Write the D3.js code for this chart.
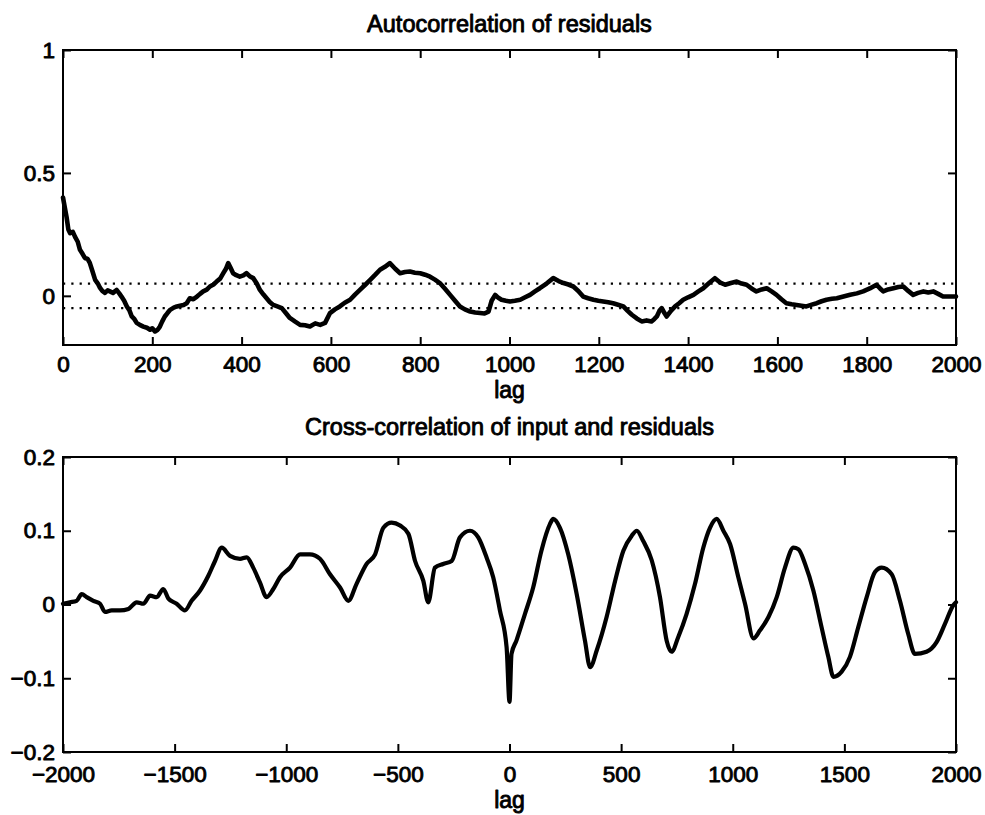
<!DOCTYPE html>
<html>
<head>
<meta charset="utf-8">
<script src="https://cdn.jsdelivr.net/npm/d3@7"></script>
<style>
  html, body { margin: 0; padding: 0; background: #fff; }
  svg { display: block; }
  text { font-family: "Liberation Sans", Arial, Helvetica, sans-serif; fill: #000; stroke: #000; stroke-width: 0.9px; stroke-linejoin: round; }
</style>
</head>
<body>
<svg id="fig" width="985" height="815"></svg>
<script>
// Autocorrelation of residuals (lag 0..2000)
const acfLag = [0, 4, 8, 12, 16, 22, 27, 33, 38, 44, 49, 55, 60, 66, 72, 78, 83, 88, 94, 100, 105, 112, 120, 126, 131, 137, 143, 149, 154, 160, 165, 172, 180, 188, 195, 200, 206, 212, 217, 222, 228, 234, 240, 248, 255, 262, 270, 277, 284, 292, 300, 307, 314, 322, 329, 337, 344, 352, 359, 365, 370, 375, 381, 388, 396, 404, 411, 418, 426, 434, 441, 449, 456, 463, 471, 480, 490, 499, 508, 520, 531, 542, 553, 565, 576, 587, 598, 609, 620, 631, 643, 654, 665, 677, 688, 699, 710, 721, 732, 744, 755, 766, 777, 788, 800, 811, 822, 833, 844, 856, 867, 878, 889, 900, 912, 923, 934, 944, 953, 960, 968, 975, 982, 992, 1001, 1012, 1024, 1035, 1046, 1057, 1068, 1083, 1098, 1110, 1121, 1132, 1143, 1154, 1165, 1176, 1188, 1199, 1210, 1221, 1232, 1243, 1255, 1264, 1274, 1285, 1296, 1307, 1318, 1324, 1330, 1336, 1341, 1347, 1352, 1362, 1371, 1380, 1389, 1400, 1412, 1423, 1434, 1447, 1460, 1471, 1483, 1496, 1509, 1520, 1531, 1542, 1553, 1565, 1576, 1587, 1598, 1609, 1620, 1632, 1643, 1654, 1665, 1677, 1688, 1699, 1710, 1722, 1733, 1748, 1763, 1778, 1792, 1807, 1822, 1830, 1837, 1848, 1860, 1871, 1882, 1893, 1904, 1915, 1927, 1938, 1949, 1960, 1971, 1985, 2000];
const acfVal = [0.40, 0.36, 0.32, 0.27, 0.255, 0.26, 0.24, 0.22, 0.187, 0.17, 0.154, 0.15, 0.134, 0.10, 0.065, 0.05, 0.032, 0.02, 0.012, 0.022, 0.018, 0.012, 0.024, 0.010, -0.003, -0.020, -0.043, -0.060, -0.084, -0.095, -0.11, -0.118, -0.125, -0.130, -0.138, -0.132, -0.145, -0.138, -0.125, -0.105, -0.084, -0.070, -0.057, -0.048, -0.043, -0.040, -0.037, -0.030, -0.01, -0.014, -0.003, 0.008, 0.018, 0.025, 0.038, 0.046, 0.058, 0.070, 0.092, 0.110, 0.133, 0.115, 0.092, 0.084, 0.078, 0.083, 0.092, 0.080, 0.072, 0.050, 0.024, 0.005, -0.01, -0.025, -0.037, -0.043, -0.05, -0.070, -0.09, -0.105, -0.118, -0.120, -0.125, -0.112, -0.118, -0.110, -0.07, -0.055, -0.043, -0.028, -0.016, 0.005, 0.024, 0.045, 0.065, 0.085, 0.106, 0.118, 0.133, 0.110, 0.092, 0.097, 0.099, 0.094, 0.092, 0.086, 0.078, 0.066, 0.052, 0.028, 0.004, -0.020, -0.043, -0.055, -0.064, -0.068, -0.07, -0.072, -0.064, -0.020, 0.004, -0.008, -0.016, -0.020, -0.023, -0.020, -0.016, -0.006, 0.004, 0.018, 0.031, 0.050, 0.072, 0.060, 0.052, 0.046, 0.038, 0.020, -0.003, -0.010, -0.016, -0.020, -0.023, -0.026, -0.03, -0.036, -0.043, -0.060, -0.077, -0.092, -0.104, -0.100, -0.104, -0.095, -0.084, -0.060, -0.05, -0.070, -0.084, -0.060, -0.043, -0.030, -0.016, -0.006, 0.004, 0.018, 0.031, 0.052, 0.072, 0.055, 0.045, 0.052, 0.058, 0.050, 0.045, 0.030, 0.018, 0.026, 0.031, 0.018, 0.004, -0.014, -0.03, -0.034, -0.037, -0.040, -0.043, -0.036, -0.03, -0.022, -0.016, -0.012, -0.01, -0.003, 0.004, 0.010, 0.018, 0.030, 0.045, 0.030, 0.018, 0.026, 0.031, 0.036, 0.038, 0.020, 0.004, 0.012, 0.018, 0.014, 0.018, 0.008, -0.003, -0.003, -0.003];
const acfBounds = [0.05, -0.05];
const acfXTicks = [0, 200, 400, 600, 800, 1000, 1200, 1400, 1600, 1800, 2000];
const acfYTicks = [0, 0.5, 1];

// Cross-correlation of input and residuals (lag -2000..2000)
const ccfLag = [-2000, -1969, -1939, -1916, -1894, -1864, -1834, -1812, -1782, -1745, -1707, -1670, -1640, -1610, -1580, -1551, -1528, -1491, -1454, -1424, -1386, -1349, -1319, -1289, -1252, -1207, -1177, -1148, -1118, -1088, -1058, -1028, -983, -938, -894, -849, -804, -759, -722, -685, -640, -602, -565, -528, -490, -453, -423, -386, -364, -334, -297, -259, -222, -177, -140, -103, -73, -43, -13, 0, 9, 31, 69, 106, 143, 181, 196, 226, 263, 301, 338, 361, 391, 435, 473, 510, 547, 570, 599, 637, 674, 704, 726, 756, 793, 831, 868, 898, 928, 958, 988, 1025, 1055, 1093, 1122, 1160, 1197, 1234, 1272, 1294, 1324, 1361, 1398, 1428, 1451, 1488, 1525, 1562, 1600, 1637, 1667, 1712, 1749, 1786, 1816, 1868, 1913, 1951, 1988, 2000];
const ccfVal = [0.001, 0.003, 0.005, 0.014, 0.01, 0.005, 0.001, -0.01, -0.008, -0.008, -0.006, 0.003, 0.001, 0.012, 0.01, 0.021, 0.008, 0.001, -0.008, 0.005, 0.019, 0.039, 0.059, 0.077, 0.066, 0.062, 0.064, 0.05, 0.03, 0.01, 0.021, 0.037, 0.05, 0.068, 0.068, 0.062, 0.041, 0.023, 0.005, 0.028, 0.055, 0.068, 0.104, 0.111, 0.107, 0.096, 0.059, 0.032, 0.003, 0.05, 0.055, 0.059, 0.091, 0.1, 0.091, 0.064, 0.037, -0.008, -0.058, -0.132, -0.067, -0.049, -0.013, 0.023, 0.073, 0.109, 0.116, 0.104, 0.068, 0.014, -0.049, -0.085, -0.062, -0.017, 0.032, 0.073, 0.093, 0.1, 0.086, 0.06, 0.01, -0.049, -0.064, -0.044, -0.013, 0.028, 0.077, 0.104, 0.116, 0.1, 0.082, 0.037, 0.001, -0.046, -0.035, -0.017, 0.01, 0.05, 0.077, 0.075, 0.055, 0.019, -0.031, -0.071, -0.098, -0.091, -0.071, -0.031, 0.01, 0.044, 0.05, 0.041, 0.005, -0.04, -0.067, -0.064, -0.051, -0.026, -0.001, 0.003];
const ccfXTicks = [-2000, -1500, -1000, -500, 0, 500, 1000, 1500, 2000];
const ccfYTicks = [-0.2, -0.1, 0, 0.1, 0.2];

const svg = d3.select("#fig");
const left = 63, right = 956;
const tickLen = 8;
const fmt = d3.format("");

function panel(opts) {
  const { top, bottom, xDomain, yDomain, xTicks, yTicks, lags, vals, title, titleY, lagY,
          bounds, lineWidth, curve, xPad } = opts;
  const x = d3.scaleLinear().domain(xDomain).range([left, right]);
  const y = d3.scaleLinear().domain(yDomain).range([bottom, top]);
  const g = svg.append("g");

  // plot frame
  g.append("rect")
    .attr("x", left).attr("y", top)
    .attr("width", right - left).attr("height", bottom - top)
    .attr("fill", "none").attr("stroke", "#000").attr("stroke-width", 2);

  // confidence bounds
  if (bounds) {
    g.selectAll("line.bound").data(bounds).join("line")
      .attr("class", "bound")
      .attr("x1", left).attr("x2", right)
      .attr("y1", d => y(d)).attr("y2", d => y(d))
      .attr("stroke", "#000").attr("stroke-width", 2.2)
      .attr("stroke-dasharray", "2.2,6.1");
  }

  // data curve
  const line = d3.line().x((d, i) => x(lags[i])).y(d => y(d)).curve(curve);
  g.append("path").datum(vals)
    .attr("d", line)
    .attr("fill", "none").attr("stroke", "#000")
    .attr("stroke-width", lineWidth).attr("stroke-linejoin", "round").attr("stroke-linecap", "round");

  // axes with inward ticks on all four sides
  const axB = d3.axisBottom(x).tickValues(xTicks).tickFormat(fmt).tickSizeInner(-tickLen).tickSizeOuter(0).tickPadding(xPad);
  const axT = d3.axisTop(x).tickValues(xTicks).tickFormat("").tickSizeInner(-tickLen).tickSizeOuter(0);
  const axL = d3.axisLeft(y).tickValues(yTicks).tickFormat(fmt).tickSizeInner(-tickLen).tickSizeOuter(0).tickPadding(8);
  const axR = d3.axisRight(y).tickValues(yTicks).tickFormat("").tickSizeInner(-tickLen).tickSizeOuter(0);

  const style = sel => {
    sel.select(".domain").remove();
    sel.selectAll(".tick line").attr("stroke", "#000").attr("stroke-width", 2);
    sel.selectAll(".tick text").attr("font-size", 22.5).attr("fill", "#000");
  };
  g.append("g").attr("transform", `translate(0,${bottom})`).call(axB).call(style)
    .attr("font-family", null);
  g.append("g").attr("transform", `translate(0,${top})`).call(axT).call(style);
  g.append("g").attr("transform", `translate(${left},0)`).call(axL).call(style)
    .attr("font-family", null);
  g.append("g").attr("transform", `translate(${right},0)`).call(axR).call(style);

  // title and axis label
  g.append("text").attr("x", (left + right) / 2).attr("y", titleY)
    .attr("text-anchor", "middle").attr("font-size", 23.5).text(title);
  g.append("text").attr("x", (left + right) / 2).attr("y", lagY)
    .attr("text-anchor", "middle").attr("font-size", 23).text("lag");
}

panel({
  top: 50, bottom: 345, xDomain: [0, 2000], yDomain: [-0.2, 1],
  xTicks: acfXTicks, yTicks: acfYTicks, lags: acfLag, vals: acfVal,
  title: "Autocorrelation of residuals", titleY: 32, lagY: 398, bounds: acfBounds,
  lineWidth: 4.6, curve: d3.curveLinear, xPad: 11
});

panel({
  top: 457, bottom: 752, xDomain: [-2000, 2000], yDomain: [-0.2, 0.2],
  xTicks: ccfXTicks, yTicks: ccfYTicks, lags: ccfLag, vals: ccfVal,
  title: "Cross-correlation of input and residuals", titleY: 435, lagY: 808,
  lineWidth: 4.2, curve: d3.curveMonotoneX, xPad: 14
});
</script>
</body>
</html>
